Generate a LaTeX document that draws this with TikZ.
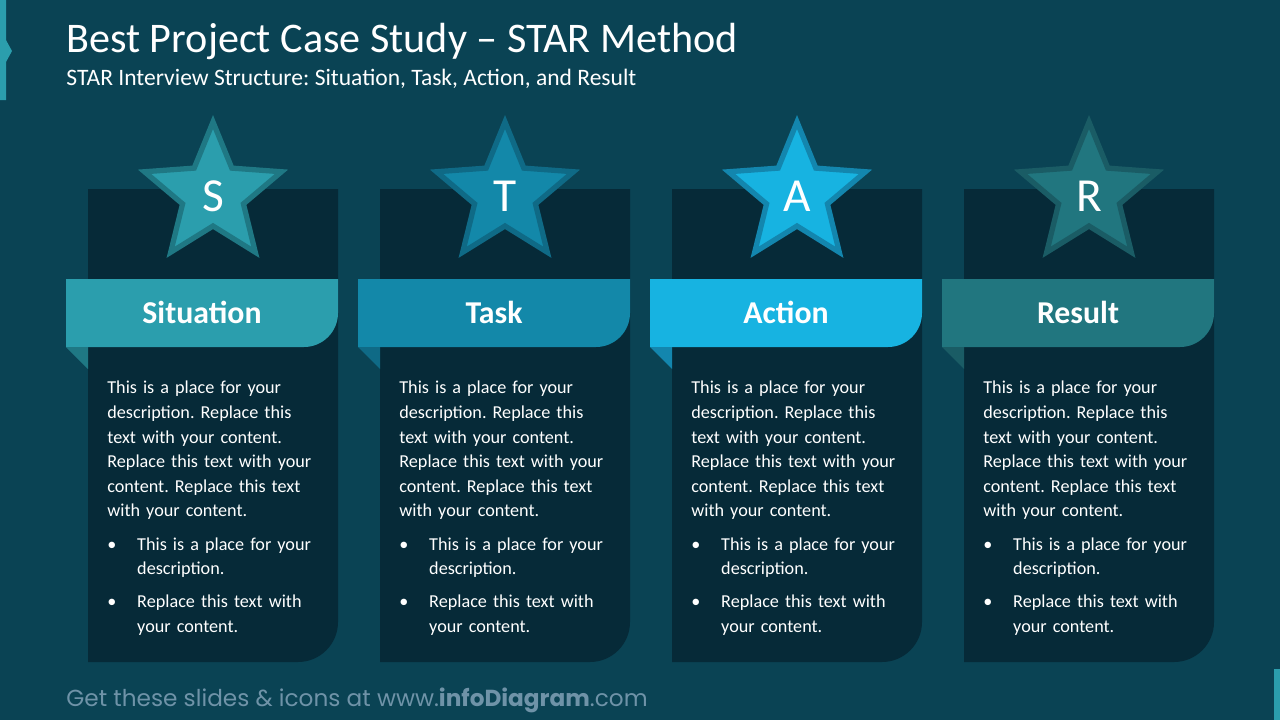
\documentclass[tikz,border=0pt]{standalone}
\usepackage{fontspec}
\setmainfont{Carlito}
\newfontfamily\footfont{Poppins}
\setlength{\parindent}{0pt}
\frenchspacing

\definecolor{bgteal}{HTML}{0A4354}
\definecolor{panel}{HTML}{062A38}
\definecolor{sitcol}{HTML}{2B9EAD}
\definecolor{sitdark}{HTML}{1F7884}
\definecolor{taskcol}{HTML}{1388A9}
\definecolor{taskdark}{HTML}{0F6A86}
\definecolor{actcol}{HTML}{17B3E1}
\definecolor{actdark}{HTML}{1386AE}
\definecolor{rescol}{HTML}{21767F}
\definecolor{resdark}{HTML}{1A5C65}
\definecolor{foottxt}{HTML}{6F93A8}

\newcommand{\bitem}[1]{\par\vspace{4.8pt}\hangindent=17pt\hangafter=1\makebox[17pt][l]{\textbullet}#1\par}

\begin{document}
\begin{tikzpicture}[x=0.02cm, y=-0.02cm,
  hdtext/.style={text=white, font=\fontsize{18.1}{20}\selectfont\bfseries},
  starltr/.style={text=white, font=\fontsize{27}{30}\selectfont, inner sep=0pt},
  body/.style={text=white, font=\fontsize{10.35}{14}\selectfont, text width=124pt,
    align=left, inner sep=0pt, anchor=north west}]
% background
\fill[bgteal] (0,0) rectangle (1280,720);
\useasboundingbox (0,0) rectangle (1280,720);

% corner markers
\fill[sitcol] (0,0) -- (6,0) -- (6,40) -- (12,51) -- (6,62) -- (6,100) -- (0,100) -- cycle;
\fill[sitcol] (1274,669) rectangle (1280,720);

% title
\node[anchor=base west, text=white, font=\fontsize{24}{28}\selectfont, inner sep=0pt] (title) at (66,52) {Best Project Case Study – STAR Method};
\node[anchor=base west, text=white, font=\fontsize{13.4}{16}\selectfont, inner sep=0pt] (subtitle) at (66,85) {STAR Interview Structure: Situation, Task, Action, and Result};

% columns
\foreach \i/\fc/\dc/\ltr/\hd in {0/sitcol/sitdark/S/Situation, 1/taskcol/taskdark/T/Task,
    2/actcol/actdark/A/Action, 3/rescol/resdark/R/Result} {
  \begin{scope}[shift={(\i*292,0)}]
    % panel
    \fill[panel] (88,189) -- (338,189) -- (338,622) arc[start angle=0, end angle=90, radius=40] -- (88,662) -- cycle;
    % ribbon
    \fill[\fc] (66,279) -- (338,279) -- (338,313) arc[start angle=0, end angle=90, radius=34] -- (66,347) -- cycle;
    \fill[\dc] (66,347) -- (88,347) -- (88,369) -- cycle;
    \node[hdtext] (hd\i) at (202,312) {\hd};
    % star
    \begin{scope}[shift={(213,194)}]
      \draw[fill=\fc, draw=\dc, line width=3pt] (-90:72) -- (-54:32) -- (-18:72) -- (18:32) -- (54:72)
        -- (90:32) -- (126:72) -- (162:32) -- (198:72) -- (234:32) -- cycle;
    \end{scope}
    \node[starltr] (st\i) at (213,196) {\ltr};
    % text
    \node[body] (body\i) at (107,381) {This is a place for your\\description. Replace this\\text with your content.\\Replace this text with your\\content. Replace this text\\with your content.
      \bitem{This is a place for your\newline description.}
      \bitem{Replace this text with\newline your content.}};
  \end{scope}
}

% footer
\node[anchor=base west, text=foottxt, font=\footfont\fontsize{13.2}{16}\selectfont, inner sep=0pt] (foot) at (66,706) {Get these slides \& icons at www.\textbf{infoDiagram}.com};
\end{tikzpicture}
\end{document}
